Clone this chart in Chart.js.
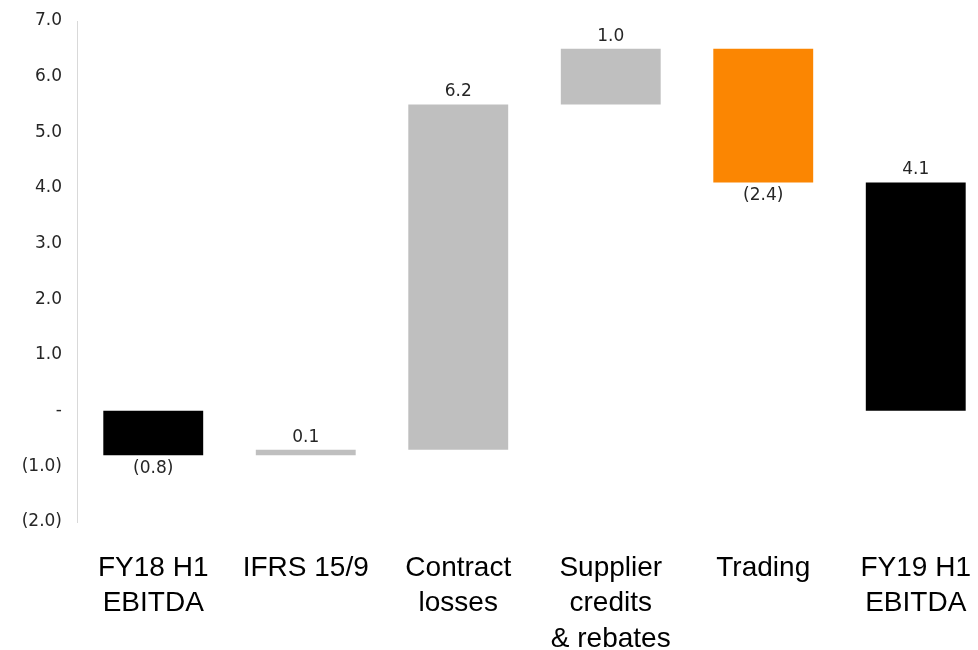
<!DOCTYPE html>
<html>
<head>
<meta charset="utf-8">
<script src="https://cdn.jsdelivr.net/npm/chart.js@4/dist/chart.umd.min.js"></script>
<style>
html,body{margin:0;padding:0;background:#fff;overflow:hidden;width:978px;height:650px;}
#wrap{width:1000px;height:650px;}
</style>
</head>
<body>
<div id="wrap"><canvas id="c" width="1000" height="650"></canvas></div>
<script>
const categories = [["FY18 H1","EBITDA"],["IFRS 15/9"],["Contract","losses"],["Supplier","credits","& rebates"],["Trading"],["FY19 H1","EBITDA"]];
const barStart = [0, -0.8, -0.7, 5.5, 6.5, 0];
const barEnd = [-0.8, -0.7, 5.5, 6.5, 4.1, 4.1];
const changes = [-0.8, 0.1, 6.2, 1.0, -2.4, 4.1];
const barColors = ["#000000","#bfbfbf","#bfbfbf","#bfbfbf","#fb8602","#000000"];
const yMin = -2, yMax = 7, yStep = 1;

function fmt(v){
  if (Math.abs(v) < 1e-9) return '-';
  if (v < 0) return '(' + Math.abs(v).toFixed(1) + ')';
  return v.toFixed(1);
}

const labelPlugin = {
  id: 'wfLabels',
  afterDatasetsDraw(chart){
    const ctx = chart.ctx;
    const meta = chart.getDatasetMeta(0);
    ctx.save();
    ctx.font = '17px "DejaVu Sans"';
    ctx.fillStyle = '#262626';
    ctx.textAlign = 'center';
    meta.data.forEach((bar, i) => {
      const v = changes[i];
      const top = Math.min(bar.y, bar.base);
      const bottom = Math.max(bar.y, bar.base);
      if (v >= 0) {
        ctx.textBaseline = 'bottom';
        ctx.fillText(fmt(v), bar.x, top - 4);
      } else {
        ctx.textBaseline = 'top';
        ctx.fillText(fmt(v), bar.x, bottom + 5);
      }
    });
    ctx.restore();
  }
};

new Chart(document.getElementById('c'), {
  type: 'bar',
  data: {
    labels: categories,
    datasets: [{
      data: barStart.map((s, i) => [s, barEnd[i]]),
      backgroundColor: barColors,
      borderWidth: 0,
      barPercentage: 0.655,
      categoryPercentage: 1.0
    }]
  },
  options: {
    responsive: false,
    animation: false,
    layout: { padding: { top: 21, right: 8, bottom: 0, left: 0 } },
    plugins: { legend: { display: false }, tooltip: { enabled: false } },
    scales: {
      x: {
        grid: { display: false, drawTicks: false },
        border: { display: false },
        ticks: {
          font: { family: '"Liberation Sans", Arial', size: 28, lineHeight: 1.28 },
          color: '#000',
          padding: 28,
          maxRotation: 0,
          autoSkip: false
        },
        afterFit(scale){ scale.height = 128; scale.paddingLeft = 0; scale.paddingRight = 0; }
      },
      y: {
        min: yMin, max: yMax,
        grid: { display: false, drawTicks: false },
        border: { display: true, color: '#d9d9d9', width: 1 },
        ticks: {
          stepSize: yStep,
          font: { family: '"DejaVu Sans"', size: 17 },
          color: '#262626',
          padding: 15,
          callback: (v) => fmt(v)
        },
        afterFit(scale){ scale.width = 77; scale.paddingTop = 0; scale.paddingBottom = 0; }
      }
    }
  },
  plugins: [labelPlugin]
});
</script>
</body>
</html>
